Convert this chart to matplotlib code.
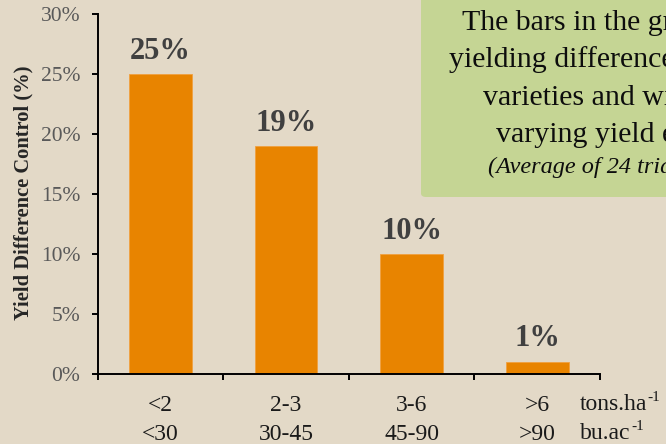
import matplotlib
matplotlib.use('Agg')
import matplotlib.pyplot as plt
from matplotlib.patches import FancyBboxPatch
import numpy as np

# yield difference vs control, per yield environment
tons_ha = ['<2', '2-3', '3-6', '>6']
bu_ac = ['<30', '30-45', '45-90', '>90']
diff_pct = [25, 19, 10, 1]
y_ticks = [0, 5, 10, 15, 20, 25, 30]
units = ['tons.ha', 'bu.ac']

box_lines = ['The bars in the graph show the',
             'yielding difference between the',
             'varieties and within the',
             'varying yield environments']
box_note = '(Average of 24 trials)'

bg = '#e3d9c7'
orange = '#e88400'
green = '#c5d594'

plt.rcParams['font.family'] = ['Liberation Serif', 'DejaVu Serif']

W, H = 666, 444
fig = plt.figure(figsize=(W/100, H/100), dpi=100, facecolor=bg)
ax = fig.add_axes([97.7/W, 1-373.7/H, (600-97.7)/W, (373.7-14)/H])
ax.set_facecolor(bg)

x = np.arange(len(diff_pct))
ax.bar(x, diff_pct, width=0.5, color=orange, edgecolor='#f0a040', linewidth=0.6, zorder=2)
for xi, v in zip(x, diff_pct):
    ax.annotate(f'{v}%', (xi, v), xytext=(0, 11), textcoords='offset points',
                ha='center', va='baseline', fontsize=22, fontweight='bold', color='#404040')

ax.set_xlim(-0.5, 3.5)
ax.set_ylim(0, 30)
ax.set_yticks(y_ticks)
ax.set_yticklabels([f'{t}%' for t in y_ticks])
ax.set_xticks(np.arange(-0.5, 4, 1))
ax.set_xticklabels([])
for s in ['top', 'right']:
    ax.spines[s].set_visible(False)
for s in ['left', 'bottom']:
    ax.spines[s].set_linewidth(1.4)
    ax.spines[s].set_color('black')
ax.tick_params(axis='y', direction='out', length=4.5, width=1.4, pad=8,
               labelsize=15.5, labelcolor='#595959')
ax.tick_params(axis='x', direction='out', length=4.5, width=1.4)

ax.set_ylabel('Yield Difference Control (%)', fontsize=14.8, fontweight='bold', color='#262626')
ax.yaxis.set_label_coords(-0.128, 0.502)

# two rows of category labels plus units
for xi, a, b in zip(x, tons_ha, bu_ac):
    ax.annotate(a, (xi, 0), xycoords=('data', 'axes fraction'), xytext=(0, -26.9),
                textcoords='offset points', ha='center', va='baseline', fontsize=17, color='#1a1a1a')
    ax.annotate(b, (xi, 0), xycoords=('data', 'axes fraction'), xytext=(0, -47.6),
                textcoords='offset points', ha='center', va='baseline', fontsize=17, color='#1a1a1a')

renderer = fig.canvas.get_renderer()
for u, uy in zip(units, [410, 439]):
    t = fig.text(580/W, 1-uy/H, u, fontsize=17, color='#1a1a1a', va='baseline')
    bb = t.get_window_extent(renderer)
    fig.text((bb.x1 + 0.5)/W, 1-(uy-9)/H, '-1', fontsize=11, color='#1a1a1a', va='baseline')

# note box in the upper right
box = FancyBboxPatch((421/W, 1-197/H), 500/W, 220/H, boxstyle='round,pad=0,rounding_size=0.008',
                     transform=fig.transFigure, facecolor=green, edgecolor='none', zorder=5)
fig.patches.append(box)
line_x = [462, 449, 483, 496]
line_y = [30, 67, 105, 142]
for t, lx, ly in zip(box_lines, line_x, line_y):
    fig.text(lx/W, 1-ly/H, t, fontsize=21.5, color='#0d0d0d', va='baseline', zorder=6)
fig.text(488/W, 1-173/H, box_note, fontsize=17.5, style='italic', color='#0d0d0d',
         va='baseline', zorder=6)

fig.savefig('out.png', dpi=100, facecolor=bg)
